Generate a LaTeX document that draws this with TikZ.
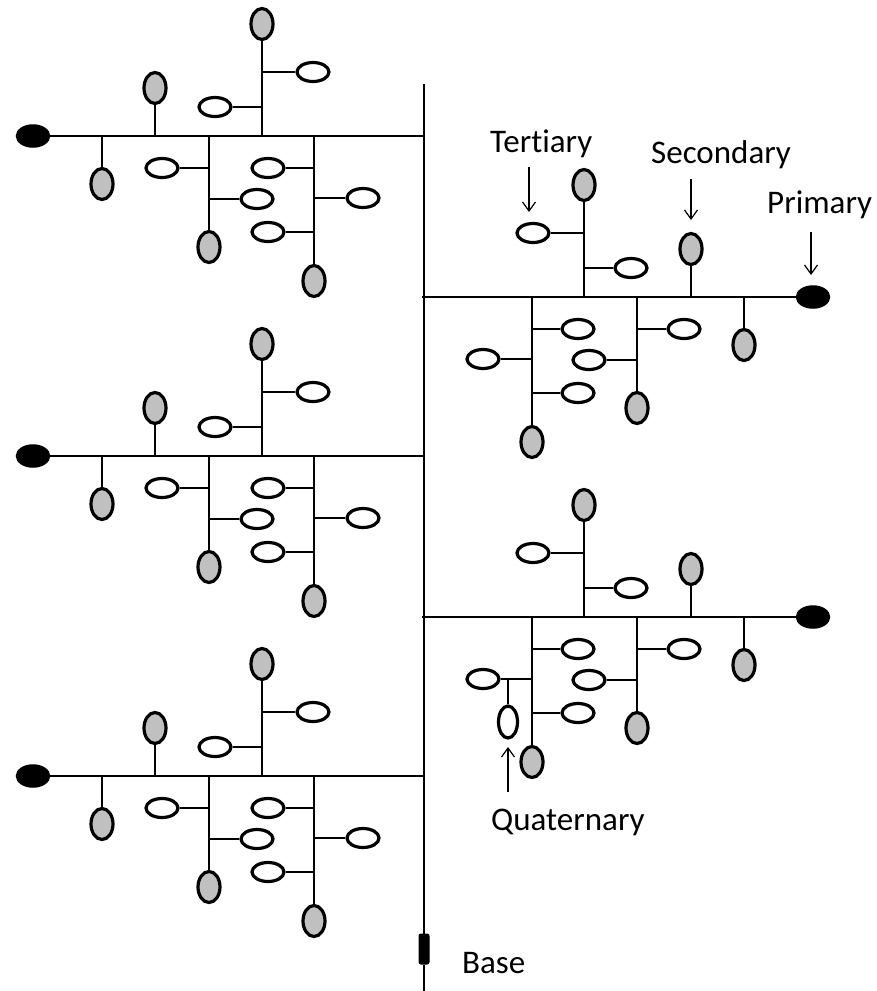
\documentclass[tikz,border=0pt]{standalone}
\usepackage{fontspec}
\setmainfont[Ligatures=NoCommon]{Carlito}
\usetikzlibrary{shapes.geometric,arrows.meta}
\definecolor{nodegray}{RGB}{192,192,192}
\tikzset{
  conn/.style={line width=1.7pt},
  prim/.style={ellipse, draw=black, fill=black, line width=1.5pt, minimum width=33pt, minimum height=22pt, inner sep=0pt},
  sec/.style={ellipse, draw=black, fill=nodegray, line width=3.2pt, minimum width=22pt, minimum height=31pt, inner sep=0pt},
  ter/.style={ellipse, draw=black, fill=white, line width=3.2pt, minimum width=32pt, minimum height=19pt, inner sep=0pt},
  quat/.style={ellipse, draw=black, fill=white, line width=3.2pt, minimum width=19pt, minimum height=32pt, inner sep=0pt},
  basebox/.style={rectangle, rounded corners=2pt, draw=black, fill=black, line width=1pt, minimum width=10pt, minimum height=30pt, inner sep=0pt},
  lbl/.style={font=\fontsize{33}{39}\selectfont, inner sep=0pt, anchor=base west},
  arr/.style={line width=1.2pt, -{Straight Barb[length=9pt,width=13pt]}},
  cluster/.pic={
    \coordinate (-t) at (0,0);
    \node[prim] (-p) at (-391,0) {};
    \coordinate (-b1) at (-322,0); \node[sec] (-g1) at (-322,48) {};
    \coordinate (-b2) at (-269,0); \node[sec] (-g2) at (-269,-48) {};
    \coordinate (-b3) at (-215,0); \node[sec] (-g3) at (-215,111) {};
    \coordinate (-b4) at (-162,0); \node[sec] (-g4) at (-162,-112) {};
    \coordinate (-b5) at (-110,0); \node[sec] (-g5) at (-110,145) {};
    \node[ter] (-w31) at (-262,32) {}; \coordinate (-j31) at (-215,32);
    \node[ter] (-w32) at (-167,63) {}; \coordinate (-j32) at (-215,63);
    \node[ter] (-w41) at (-209,-29) {}; \coordinate (-j41) at (-162,-29);
    \node[ter] (-w42) at (-111,-64) {}; \coordinate (-j42) at (-162,-64);
    \node[ter] (-w51) at (-156,32) {}; \coordinate (-j51) at (-110,32);
    \node[ter] (-w52) at (-61,62) {}; \coordinate (-j52) at (-110,62);
    \node[ter] (-w53) at (-156,96) {}; \coordinate (-j53) at (-110,96);
    \draw[conn] (-p) -- (-t);
    \draw[conn] (-b1) -- (-g1);
    \draw[conn] (-b2) -- (-g2);
    \draw[conn] (-b3) -- (-g3);
    \draw[conn] (-b4) -- (-g4);
    \draw[conn] (-b5) -- (-g5);
    \draw[conn] (-w31) -- (-j31);
    \draw[conn] (-w32) -- (-j32);
    \draw[conn] (-w41) -- (-j41);
    \draw[conn] (-w42) -- (-j42);
    \draw[conn] (-w51) -- (-j51);
    \draw[conn] (-w52) -- (-j52);
    \draw[conn] (-w53) -- (-j53);
  }
}
\begin{document}
\begin{tikzpicture}[x=1pt, y=-1pt]
  \useasboundingbox (0,0) rectangle (877,991);
  % trunk
  \coordinate (top) at (424,84);
  \coordinate (bot) at (424,991);
  \node[basebox] (base) at (424,949) {};
  \draw[conn] (top) -- (base);
  \draw[conn] (base) -- (bot);
  \node[lbl] (baselbl) at (462,973) {Base};
  % clusters
  \pic (L1) at (424,136) {cluster};
  \pic (L2) at (424,456) {cluster};
  \pic (L3) at (424,776) {cluster};
  \pic[xscale=-1] (R1) at (422,297) {cluster};
  \pic[xscale=-1] (R2) at (422,617) {cluster};
  \coordinate (R1j) at (424,297);
  \coordinate (R2j) at (424,617);
  \draw[conn] (R1-t) -- (R1j);
  \draw[conn] (R2-t) -- (R2j);
  % quaternary
  \coordinate (qj) at (508,679);
  \node[quat] (q) at (508,722) {};
  \draw[conn] (qj) -- (q);
  % labels
  \node[lbl] (tlbl) at (490,152) {Tert\kern0pt iary};
  \coordinate (ta1) at (529,167); \coordinate (ta2) at (529,212);
  \draw[arr] (ta1) -- (ta2);
  \node[lbl] (slbl) at (651,163) {Secondary};
  \coordinate (sa1) at (691,179); \coordinate (sa2) at (691,220);
  \draw[arr] (sa1) -- (sa2);
  \node[lbl] (plbl) at (767,213) {Primary};
  \coordinate (pa1) at (811,232); \coordinate (pa2) at (811,275);
  \draw[arr] (pa1) -- (pa2);
  \node[lbl] (qlbl) at (491,830) {Quaternary};
  \coordinate (qa1) at (508,792); \coordinate (qa2) at (508,747);
  \draw[arr] (qa1) -- (qa2);
\end{tikzpicture}
\end{document}
